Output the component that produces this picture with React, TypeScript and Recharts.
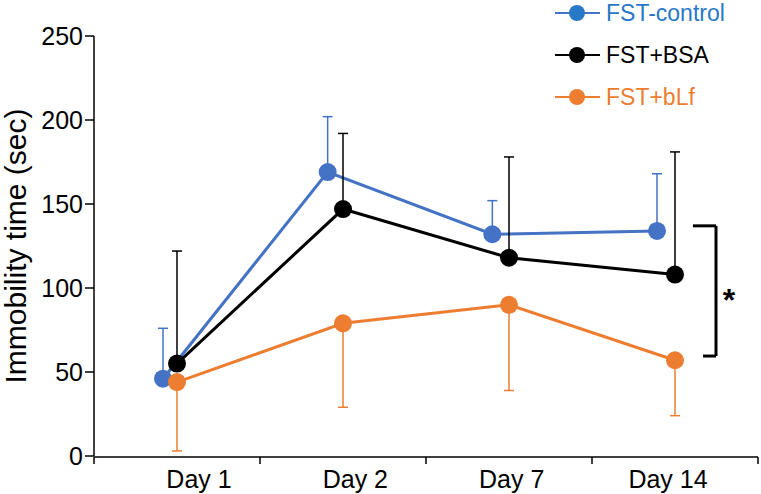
import React from 'react';
import { LineChart, Line, XAxis, YAxis, ErrorBar, Legend, ReferenceLine, ReferenceDot } from 'recharts';

const days = ['Day 1', 'Day 2', 'Day 7', 'Day 14'];
const dayIndex = [0.5, 1.5, 2.5, 3.5];
const controlMean = [46, 169, 132, 134];
const controlSD = [30, 33, 20, 34];
const bsaMean = [55, 147, 118, 108];
const bsaSD = [67, 45, 60, 73];
const blfMean = [44, 79, 90, 57];
const blfSD = [41, 50, 51, 33];
const yTicks = [0, 50, 100, 150, 200, 250];
const dayBoundaries = [0, 1, 2, 3, 4];
const seriesOrder = ['FST-control', 'FST+BSA', 'FST+bLf'];

// significance bracket (data space of the boundary axis)
const bracketX = 3.747;
const bracketTopLeftX = 3.608;
const bracketBottomLeftX = 3.669;
const bracketTopY = 137;
const bracketBottomY = 59.5;
const starX = 3.825;
const starY = 93;

const FONT = '"Liberation Sans", Arial, sans-serif';
const BLUE = '#4472C4';
const BLACK = '#000000';
const ORANGE = '#ED7D31';

const legendStyle: Record<string, { line: string; dot: string; text: string }> = {
  'FST-control': { line: '#4472C4', dot: '#2878C8', text: '#2878C8' },
  'FST+BSA': { line: '#000000', dot: '#000000', text: '#000000' },
  'FST+bLf': { line: '#ED7D31', dot: '#ED7D31', text: '#ED7D31' },
};

const data = days.map((day, i) => ({
  day,
  pos: dayIndex[i],
  control: controlMean[i],
  controlErr: [0, controlSD[i]],
  bsa: bsaMean[i],
  bsaErr: [0, bsaSD[i]],
  blf: blfMean[i],
  blfErr: [blfSD[i], 0],
}));

const renderLegend = (props: any) => {
  const payload = [...(props.payload || [])].sort(
    (a: any, b: any) => seriesOrder.indexOf(a.value) - seriesOrder.indexOf(b.value)
  );
  return (
    <div style={{ display: 'flex', flexDirection: 'column', fontFamily: FONT }}>
      {payload.map((entry: any) => {
        const st = legendStyle[entry.value] || { line: entry.color, dot: entry.color, text: entry.color };
        return (
          <div key={entry.value} style={{ display: 'flex', alignItems: 'center', height: 42 }}>
            <svg width={50} height={20} style={{ marginRight: 6 }}>
              <line x1={5} y1={10} x2={50} y2={10} stroke={st.line} strokeWidth={2} />
              <circle cx={27} cy={10} r={8} fill={st.dot} />
            </svg>
            <span style={{ fontSize: 23, color: st.text, lineHeight: '42px' }}>{entry.value}</span>
          </div>
        );
      })}
    </div>
  );
};

const renderYLabel = (props: any) => {
  const vb = props.viewBox || {};
  const cx = (vb.x || 0) + 15;
  const cy = (vb.y || 0) + (vb.height || 0) / 2;
  return (
    <text
      x={cx}
      y={cy}
      transform={`rotate(-90, ${cx}, ${cy})`}
      textAnchor="middle"
      dominantBaseline="central"
      fontSize={30}
      fontFamily={FONT}
      fill="#000"
    >
      Immobility time (sec)
    </text>
  );
};

export default function App() {
  return (
    <div style={{ position: 'absolute', left: 0, top: 0, background: '#fff' }}>
      <LineChart
        width={761}
        height={494}
        data={data}
        margin={{ top: 36, right: 3, bottom: 0, left: 0 }}
        style={{ fontFamily: FONT }}
      >
        <XAxis
          xAxisId="grid"
          dataKey="pos"
          type="number"
          domain={[0, 4]}
          ticks={dayBoundaries}
          interval={0}
          allowDataOverflow
          height={1}
          tickSize={7}
          tickFormatter={() => ''}
          axisLine={{ stroke: '#000', strokeWidth: 1.5 }}
          tickLine={{ stroke: '#000', strokeWidth: 1.5 }}
        />
        <XAxis
          xAxisId="labels"
          dataKey="day"
          height={37}
          padding={{ left: 105, right: 90 }}
          axisLine={false}
          tickLine={false}
          tickSize={6}
          tickMargin={6}
          interval={0}
          tick={{ fill: '#000', fontSize: 25, fontFamily: FONT }}
        />
        <XAxis xAxisId="main" dataKey="day" hide height={1} padding={{ left: 83, right: 83 }} />
        <XAxis xAxisId="ctrl" dataKey="day" hide height={1} padding={{ left: 69, right: 101 }} />
        <YAxis
          domain={[0, 250]}
          ticks={yTicks}
          interval={0}
          width={94}
          tickSize={9}
          tickMargin={2}
          axisLine={{ stroke: '#000', strokeWidth: 1.5 }}
          tickLine={{ stroke: '#000', strokeWidth: 1.5 }}
          tick={{ fill: '#000', fontSize: 25, fontFamily: FONT }}
          label={{ content: renderYLabel }}
        />
        <Legend
          layout="vertical"
          align="center"
          verticalAlign="middle"
          content={renderLegend}
          wrapperStyle={{ left: 550, top: -8, width: 211 }}
        />
        <Line
          xAxisId="ctrl"
          dataKey="control"
          name="FST-control"
          stroke={BLUE}
          strokeWidth={3}
          dot={{ r: 9, fill: BLUE, stroke: BLUE, strokeWidth: 0 }}
          activeDot={false}
          isAnimationActive={false}
        >
          <ErrorBar dataKey="controlErr" direction="y" width={5} stroke={BLUE} strokeWidth={1.5} />
        </Line>
        <Line
          xAxisId="main"
          dataKey="bsa"
          name="FST+BSA"
          stroke={BLACK}
          strokeWidth={3}
          dot={{ r: 9, fill: BLACK, stroke: BLACK, strokeWidth: 0 }}
          activeDot={false}
          isAnimationActive={false}
        >
          <ErrorBar dataKey="bsaErr" direction="y" width={5} stroke={BLACK} strokeWidth={1.5} />
        </Line>
        <Line
          xAxisId="main"
          dataKey="blf"
          name="FST+bLf"
          stroke={ORANGE}
          strokeWidth={3}
          dot={{ r: 9, fill: ORANGE, stroke: ORANGE, strokeWidth: 0 }}
          activeDot={false}
          isAnimationActive={false}
        >
          <ErrorBar dataKey="blfErr" direction="y" width={5} stroke={ORANGE} strokeWidth={1.5} />
        </Line>
        <ReferenceLine
          xAxisId="grid"
          segment={[{ x: bracketX, y: bracketTopY }, { x: bracketX, y: bracketBottomY }]}
          stroke="#000"
          strokeWidth={3}
        />
        <ReferenceLine
          xAxisId="grid"
          segment={[{ x: bracketTopLeftX, y: bracketTopY }, { x: bracketX, y: bracketTopY }]}
          stroke="#000"
          strokeWidth={3}
        />
        <ReferenceLine
          xAxisId="grid"
          segment={[{ x: bracketBottomLeftX, y: bracketBottomY }, { x: bracketX, y: bracketBottomY }]}
          stroke="#000"
          strokeWidth={3}
        />
        <ReferenceDot
          xAxisId="grid"
          x={starX}
          y={starY}
          r={0}
          fill="none"
          stroke="none"
          label={{ value: '*', position: 'center', fontSize: 32, fontWeight: 'bold', fill: '#000', fontFamily: FONT }}
        />
      </LineChart>
    </div>
  );
}
